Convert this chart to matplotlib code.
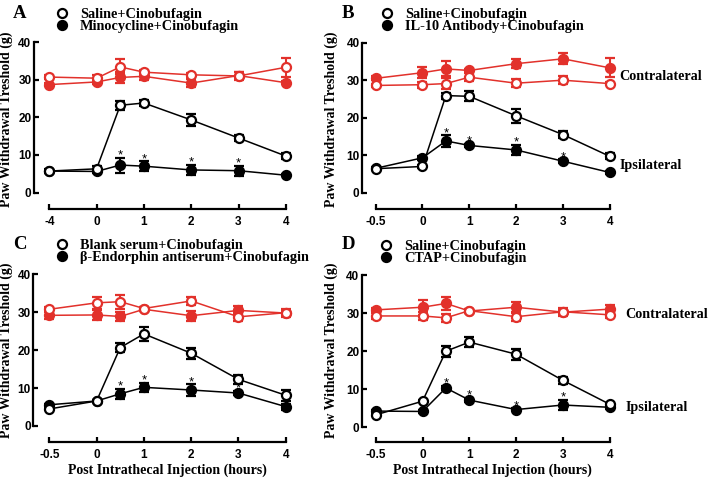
import matplotlib
matplotlib.use("Agg")
import matplotlib.pyplot as plt

plt.rcParams['font.family'] = ['Liberation Sans', 'DejaVu Sans']
plt.rcParams['font.weight'] = 'bold'

W, H = 709, 480
RED = '#e2312b'
SERIF = ['Liberation Serif', 'DejaVu Serif']

# ---------------- data ----------------
x_pos = [-1, 0, 0.5, 1, 2, 3, 4]
xtick_pos = [-1, 0, 1, 2, 3, 4]
xtick_labels_A = ['-4', '0', '1', '2', '3', '4']
xtick_labels_BCD = ['-0.5', '0', '1', '2', '3', '4']
ytick_pos = [0, 10, 20, 30, 40]
star_x = [0.5, 1, 2, 3]

# Panel A
A_contra_ctrl = [30.7, 30.4, 33.4, 32.0, 31.3, 31.0, 33.3]
A_contra_ctrl_err = [0.5, 0.8, 2.0, 0.6, 0.6, 1.0, 2.5]
A_contra_drug = [28.7, 29.4, 30.6, 30.9, 29.1, 31.1, 29.2]
A_contra_drug_err = [0.5, 0.5, 1.5, 1.0, 1.0, 1.0, 0.4]
A_ipsi_ctrl = [5.7, 6.3, 23.2, 23.8, 19.3, 14.5, 9.7]
A_ipsi_ctrl_err = [0.5, 0.8, 1.2, 0.8, 1.5, 0.7, 0.8]
A_ipsi_drug = [5.7, 5.6, 7.3, 7.0, 6.0, 5.8, 4.6]
A_ipsi_drug_err = [0.3, 0.3, 2.0, 1.3, 1.3, 1.3, 0.3]

# Panel B
B_contra_ctrl = [28.6, 28.8, 29.1, 30.8, 29.2, 30.0, 29.1]
B_contra_ctrl_err = [0.5, 0.8, 1.5, 1.0, 1.0, 1.0, 0.5]
B_contra_drug = [30.5, 32.0, 33.0, 32.6, 34.4, 35.7, 33.3]
B_contra_drug_err = [0.5, 1.5, 2.0, 0.5, 1.2, 1.5, 2.5]
B_ipsi_ctrl = [6.4, 7.0, 25.9, 25.7, 20.5, 15.5, 9.7]
B_ipsi_ctrl_err = [0.3, 0.3, 0.8, 1.3, 1.8, 1.0, 0.8]
B_ipsi_drug = [6.5, 9.3, 13.8, 12.6, 11.4, 8.4, 5.4]
B_ipsi_drug_err = [0.3, 0.5, 1.5, 0.5, 1.3, 0.5, 0.3]

# Panel C
C_contra_ctrl = [30.8, 32.5, 32.8, 31.0, 33.0, 28.8, 29.9]
C_contra_ctrl_err = [0.5, 1.5, 1.8, 0.5, 1.0, 1.0, 0.5]
C_contra_drug = [29.2, 29.3, 28.9, 30.8, 29.1, 30.5, 29.8]
C_contra_drug_err = [1.0, 1.3, 1.2, 0.5, 1.3, 1.2, 1.0]
C_ipsi_ctrl = [4.5, 6.6, 20.7, 24.3, 19.2, 12.3, 8.1]
C_ipsi_ctrl_err = [0.3, 0.3, 1.2, 1.8, 1.5, 1.2, 1.5]
C_ipsi_drug = [5.6, 6.6, 8.5, 10.2, 9.5, 8.7, 5.1]
C_ipsi_drug_err = [0.3, 0.3, 1.3, 1.2, 1.5, 0.5, 0.8]

# Panel D
D_contra_ctrl = [29.3, 29.3, 28.8, 30.7, 29.1, 30.4, 29.6]
D_contra_ctrl_err = [0.8, 1.0, 1.0, 0.5, 1.2, 1.0, 0.8]
D_contra_drug = [30.9, 31.6, 32.6, 30.6, 31.6, 30.3, 31.1]
D_contra_drug_err = [0.5, 2.0, 1.8, 0.5, 1.5, 0.5, 1.0]
D_ipsi_ctrl = [3.2, 6.8, 20.0, 22.4, 19.2, 12.3, 6.0]
D_ipsi_ctrl_err = [0.3, 0.3, 1.5, 1.3, 1.5, 1.0, 0.3]
D_ipsi_drug = [4.2, 4.1, 10.3, 7.1, 4.6, 5.8, 5.2]
D_ipsi_drug_err = [0.3, 0.3, 0.5, 0.5, 0.3, 1.3, 0.5]

legend_A = ['Saline+Cinobufagin', 'Minocycline+Cinobufagin']
legend_B = ['Saline+Cinobufagin', 'IL-10 Antibody+Cinobufagin']
legend_C = ['Blank serum+Cinobufagin', 'β-Endorphin antiserum+Cinobufagin']
legend_D = ['Saline+Cinobufagin', 'CTAP+Cinobufagin']

ylabel = 'Paw Withdrawal Treshold (g)'
xlabel = 'Post Intrathecal Injection (hours)'

panels = [
    dict(letter='A', ticks=xtick_labels_A, leg=legend_A,
         cc=A_contra_ctrl, cce=A_contra_ctrl_err, cd=A_contra_drug, cde=A_contra_drug_err,
         ic=A_ipsi_ctrl, ice=A_ipsi_ctrl_err, idr=A_ipsi_drug, ide=A_ipsi_drug_err,
         geo=(33.5, 49.3, 47.3, 192.5, 3.76, 209.3, 30, 292),
         letter_xy=(13, 5), leg_xy=(61.7, 12.7), ylab=(13, 119), side=None, xlab=False),
    dict(letter='B', ticks=xtick_labels_BCD, leg=legend_B,
         cc=B_contra_ctrl, cce=B_contra_ctrl_err, cd=B_contra_drug, cde=B_contra_drug_err,
         ic=B_ipsi_ctrl, ice=B_ipsi_ctrl_err, idr=B_ipsi_drug, ide=B_ipsi_drug_err,
         geo=(361.7, 375.7, 46.8, 192.7, 3.75, 209.3, 30, 616),
         letter_xy=(342, 5), leg_xy=(387.3, 12.7), ylab=(338, 119),
         side=((619, 75), (620, 164)), xlab=False),
    dict(letter='C', ticks=xtick_labels_BCD, leg=legend_C,
         cc=C_contra_ctrl, cce=C_contra_ctrl_err, cd=C_contra_drug, cde=C_contra_drug_err,
         ic=C_ipsi_ctrl, ice=C_ipsi_ctrl_err, idr=C_ipsi_drug, ide=C_ipsi_drug_err,
         geo=(32.8, 49.3, 47.3, 426.0, 3.79, 441.7, 262, 292),
         letter_xy=(13, 236), leg_xy=(61.7, 244), ylab=(13, 350), side=None, xlab=True),
    dict(letter='D', ticks=xtick_labels_BCD, leg=legend_D,
         cc=D_contra_ctrl, cce=D_contra_ctrl_err, cd=D_contra_drug, cde=D_contra_drug_err,
         ic=D_ipsi_ctrl, ice=D_ipsi_ctrl_err, idr=D_ipsi_drug, ide=D_ipsi_drug_err,
         geo=(361.5, 375.7, 46.8, 427.0, 3.79, 441.7, 262, 616),
         letter_xy=(342, 236), leg_xy=(386.3, 245), ylab=(338, 350),
         side=((625, 313), (626, 406)), xlab=True),
]

fig = plt.figure(figsize=(W / 100, H / 100), dpi=100)

MS = 6.5
MEW = 1.6


def series(ax, y, e, color, filled, z):
    ax.errorbar(x_pos, y, yerr=e, color=color, lw=1.1, elinewidth=1.5,
                capsize=3.4, capthick=1.5, marker='o', ms=MS, mew=MEW,
                mfc=color if filled else 'white', mec=color, zorder=z,
                clip_on=False)


for p in panels:
    yax, xm1, ux, y0, uy, xsp, top, right = p['geo']
    rect = [yax / W, (H - xsp) / H, (right - yax) / W, (xsp - top) / H]
    ax = fig.add_axes(rect)
    ax.patch.set_alpha(0)
    ax.set_xlim(-1 - (xm1 - yax) / ux, -1 + (right - xm1) / ux)
    ax.set_ylim(-(xsp - y0) / uy, (y0 - top) / uy)

    series(ax, p['cd'], p['cde'], RED, True, 3)
    series(ax, p['cc'], p['cce'], RED, False, 4)
    series(ax, p['idr'], p['ide'], 'black', True, 5)
    series(ax, p['ic'], p['ice'], 'black', False, 6)

    for sx in star_x:
        i = x_pos.index(sx)
        ax.annotate('*', (sx, p['idr'][i] + p['ide'][i]), xytext=(0, -0.5),
                    textcoords='offset points', ha='center', va='baseline',
                    fontsize=9.5, fontweight='normal', zorder=7)

    for s in ['top', 'right']:
        ax.spines[s].set_visible(False)
    ax.spines['left'].set_bounds(0, 40)
    ax.spines['bottom'].set_bounds(-1, 4)
    for s in ['left', 'bottom']:
        ax.spines[s].set_linewidth(1.6)
    ax.set_xticks(xtick_pos)
    ax.set_xticklabels(p['ticks'])
    ax.set_yticks(ytick_pos)
    ax.set_yticklabels([str(v) for v in ytick_pos])
    ax.tick_params(direction='in', length=3.5, width=1.6, labelsize=8.5)
    ax.tick_params(axis='x', pad=5)
    ax.tick_params(axis='y', pad=1.5)

    axw = right - yax
    axh = xsp - top
    ax.set_ylabel(ylabel, family=SERIF, fontsize=10, fontweight='bold')
    ax.yaxis.set_label_coords((p['ylab'][0] - yax) / axw, (xsp - p['ylab'][1]) / axh)
    if p['xlab']:
        ax.set_xlabel(xlabel, family=SERIF, fontsize=10, fontweight='bold')
        ax.xaxis.set_label_coords((xm1 + 2.5 * ux - yax) / axw, (xsp - 463.5) / axh)

    # panel letter
    lx, ly = p['letter_xy']
    fig.text(lx / W, 1 - ly / H, p['letter'], family=SERIF, fontsize=13.5,
             fontweight='bold', ha='left', va='top')

    # legend (markers + labels)
    mx, my = p['leg_xy']
    for k, lab in enumerate(p['leg']):
        yy = my + 12.4 * k
        fig.add_artist(plt.Line2D([mx / W], [1 - yy / H], transform=fig.transFigure,
                                  marker='o', ms=MS, mew=MEW, color='black',
                                  mfc='black' if k == 1 else 'white', ls='none'))
        fig.text((mx + 18) / W, 1 - yy / H, lab, family=SERIF, fontsize=10.3,
                 fontweight='bold', ha='left', va='center_baseline')

    if p['side']:
        (cx, cy), (ix, iy) = p['side']
        fig.text(cx / W, 1 - cy / H, 'Contralateral', family=SERIF, fontsize=10.2,
                 fontweight='bold', ha='left', va='center_baseline')
        fig.text(ix / W, 1 - iy / H, 'Ipsilateral', family=SERIF, fontsize=10.2,
                 fontweight='bold', ha='left', va='center_baseline')

fig.savefig('out.png', dpi=100)
